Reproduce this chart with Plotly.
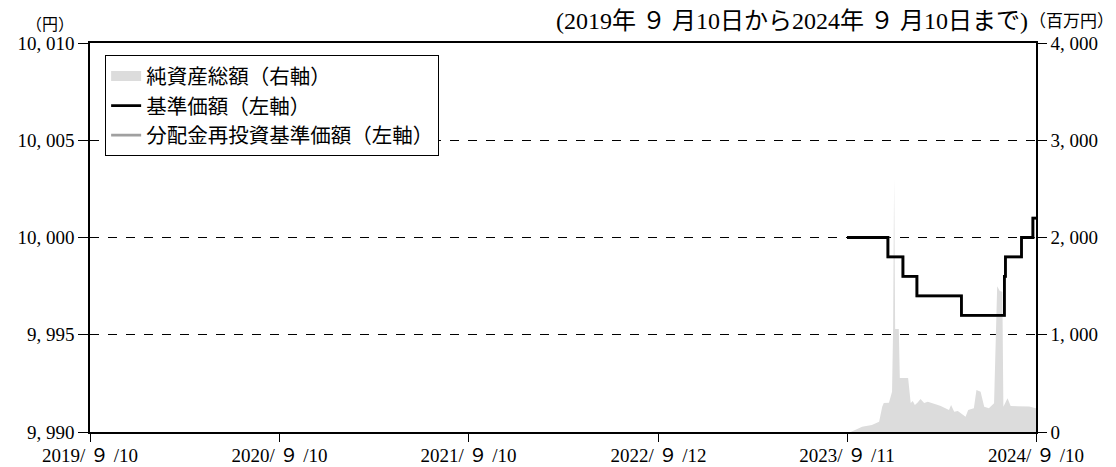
import plotly.graph_objects as go

# ---- data ----
nav_dates = ["2023-09-11", "2023-11-29", "2023-12-28", "2024-01-24", "2024-04-19",
             "2024-07-11", "2024-07-13", "2024-08-13", "2024-09-04", "2024-09-10"]
nav_values = [10000, 9999, 9998, 9997, 9996, 9998, 9999, 10000, 10001, 10001]

reinv_dates = nav_dates
reinv_values = nav_values

asset_dates = ["2023-09-11", "2023-09-18", "2023-10-04", "2023-10-10", "2023-10-29", "2023-11-08",
               "2023-11-12", "2023-11-18", "2023-11-21", "2023-12-01", "2023-12-07", "2023-12-09",
               "2023-12-11", "2023-12-13", "2023-12-20", "2023-12-22", "2024-01-07", "2024-01-12",
               "2024-01-16", "2024-01-20", "2024-01-25", "2024-01-31", "2024-02-07", "2024-02-14",
               "2024-02-20", "2024-02-26", "2024-03-03", "2024-03-10", "2024-03-18", "2024-03-26",
               "2024-03-30", "2024-04-05", "2024-04-12", "2024-04-18", "2024-04-27", "2024-05-02",
               "2024-05-13", "2024-05-18", "2024-05-26", "2024-06-02", "2024-06-11", "2024-06-21",
               "2024-06-27", "2024-07-02", "2024-07-07", "2024-07-09", "2024-07-17", "2024-07-23",
               "2024-08-05", "2024-08-18", "2024-08-28", "2024-09-06", "2024-09-10"]
asset_values = [0, 0, 38, 55, 72, 92,
                106, 260, 298, 301, 414, 1060,
                2610, 1060, 1060, 555, 555, 298,
                320, 278, 300, 339, 298, 310,
                301, 295, 280, 267, 250, 226,
                278, 209, 215, 192, 158, 226,
                244, 432, 414, 260, 244, 295,
                1500, 1450, 1443, 260, 346, 267,
                267, 260, 262, 250, 245]

x_tick_vals = ["2019-09-10", "2020-09-10", "2021-09-10", "2022-09-12", "2023-09-11", "2024-09-10"]
x_tick_text = ["2019/ ９ /10", "2020/ ９ /10", "2021/ ９ /10", "2022/ ９ /12", "2023/ ９ /11", "2024/ ９ /10"]
left_tick_vals = [9990, 9995, 10000, 10005, 10010]
left_tick_text = ["9, 990", "9, 995", "10, 000", "10, 005", "10, 010"]
right_tick_vals = [0, 1000, 2000, 3000, 4000]
right_tick_text = ["0", "1, 000", "2, 000", "3, 000", "4, 000"]

FONT = "'Liberation Serif', 'Noto Sans CJK JP', serif"
AREA_COLOR = "#dcdcdc"

fig = go.Figure()
fig.add_trace(go.Scatter(
    x=asset_dates, y=asset_values, name="純資産総額（右軸）", mode="lines",
    fill="tozeroy", fillcolor=AREA_COLOR, line=dict(width=0, color=AREA_COLOR),
    yaxis="y", showlegend=False))
# legend swatch for the area series
fig.add_trace(go.Scatter(
    x=[None], y=[None], name="純資産総額（右軸）", mode="lines",
    line=dict(width=16, color=AREA_COLOR), yaxis="y", legendrank=1))
fig.add_trace(go.Scatter(
    x=reinv_dates, y=reinv_values, name="分配金再投資基準価額（左軸）", mode="lines",
    line=dict(color="#a0a0a0", width=2.8, shape="hv"), yaxis="y2", legendrank=3))
fig.add_trace(go.Scatter(
    x=nav_dates, y=nav_values, name="基準価額（左軸）", mode="lines",
    line=dict(color="#000000", width=2.8, shape="hv"), yaxis="y2", legendrank=2))

fig.update_layout(
    width=1108, height=459,
    margin=dict(l=82, r=80, t=35, b=35, autoexpand=False),
    paper_bgcolor="white", plot_bgcolor="white",
    font=dict(family=FONT, size=19, color="black"),
    showlegend=True,
    legend=dict(x=0.016, y=0.969, xanchor="left", yanchor="top",
                bgcolor="white", bordercolor="black", borderwidth=1,
                font=dict(family=FONT, size=20.5), traceorder="normal",
                itemwidth=30),
    xaxis=dict(type="date", range=["2019-09-10", "2024-09-10"],
               tickvals=x_tick_vals, ticktext=x_tick_text, automargin=False,
               ticks="outside", ticklen=8, tickcolor="black", tickwidth=1,
               ticklabelstandoff=-3,
               showline=True, linecolor="black", linewidth=1.5, mirror=True,
               showgrid=False, zeroline=False, tickfont=dict(size=19)),
    yaxis=dict(range=[0, 4000], side="right", tickvals=right_tick_vals,
               ticktext=right_tick_text, ticks="outside", ticklen=9, automargin=False,
               tickcolor="black", showline=True, linecolor="black", linewidth=1.5,
               showgrid=False, zeroline=False, tickfont=dict(size=19)),
    yaxis2=dict(range=[9990, 10010], side="left", overlaying="y",
                tickvals=left_tick_vals, ticktext=left_tick_text, automargin=False,
                ticks="outside", ticklen=10, tickcolor="black",
                showline=True, linecolor="black", linewidth=1.5,
                showgrid=True, gridcolor="black", gridwidth=1, griddash="dash",
                zeroline=False, tickfont=dict(size=19)),
    annotations=[
        dict(text="（円）", xref="paper", yref="paper", x=-0.0148, y=1.047,
             xanchor="right", yanchor="middle", showarrow=False,
             font=dict(family=FONT, size=16)),
        dict(text="(2019年 ９ 月10日から2024年 ９ 月10日まで)", xref="paper", yref="paper",
             x=0.9937, y=1.0565, xanchor="right", yanchor="middle", showarrow=False,
             font=dict(family=FONT, size=24)),
        dict(text="（百万円）", xref="paper", yref="paper", x=1.0846, y=1.055,
             xanchor="right", yanchor="middle", showarrow=False,
             font=dict(family=FONT, size=17)),
    ],
)

fig.write_html("out.html")
